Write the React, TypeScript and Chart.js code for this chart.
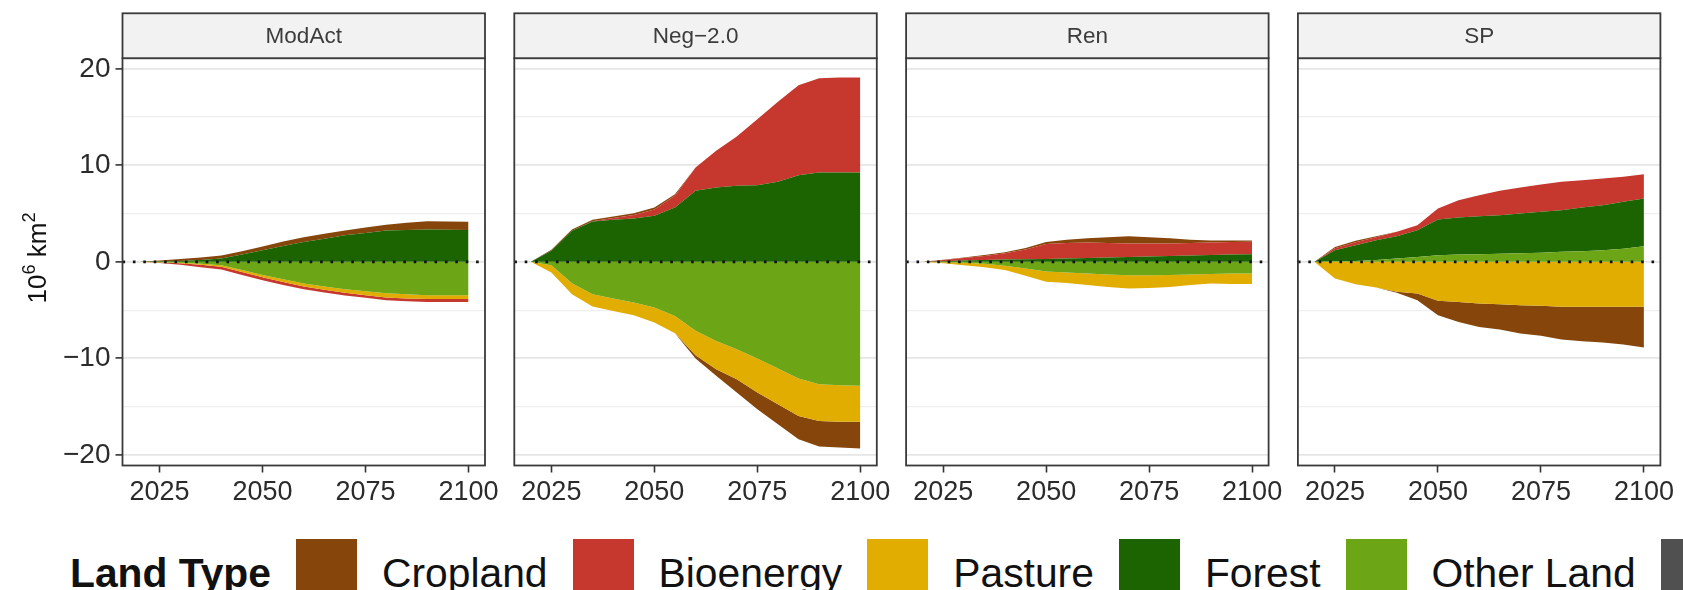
import { Fragment, useEffect, useRef } from "react";
import { Chart, registerables } from "chart.js";

Chart.register(...registerables);

const FONT = "'Liberation Sans', Arial, Helvetica, sans-serif";

// time axis and ticks
const YEARS = [2020, 2025, 2030, 2035, 2040, 2045, 2050, 2055, 2060, 2065, 2070, 2075, 2080, 2085, 2090, 2095, 2100];
const X_TICKS = [2025, 2050, 2075, 2100];
const Y_TICKS = [-20, -15, -10, -5, 0, 5, 10, 15, 20];

const SCENARIOS = ["ModAct", "Neg\u22122.0", "Ren", "SP"];
const LAND_TYPES = ["Cropland", "Bioenergy", "Pasture", "Forest", "Other Land"];
const LAND_COLORS = ["#86460b", "#c6382e", "#e1ad01", "#1c6401", "#6ca516"];
const EXTRA_SWATCH = "#505050";

// ModAct (10^6 km2, change vs 2020)
const modActCropland = [0, 0.1, 0.2, 0.25, 0.3, 0.35, 0.4, 0.45, 0.5, 0.5, 0.5, 0.55, 0.6, 0.75, 0.85, 0.85, 0.85];
const modActBioenergy = [0, -0.05, -0.15, -0.25, -0.3, -0.3, -0.3, -0.3, -0.3, -0.3, -0.28, -0.28, -0.28, -0.28, -0.3, -0.3, -0.3];
const modActPasture = [0, -0.02, -0.05, -0.1, -0.15, -0.2, -0.25, -0.3, -0.3, -0.33, -0.35, -0.4, -0.45, -0.45, -0.4, -0.4, -0.4];
const modActForest = [0, 0.05, 0.1, 0.2, 0.35, 0.75, 1.2, 1.65, 2.05, 2.4, 2.75, 3.0, 3.25, 3.3, 3.35, 3.32, 3.3];
const modActOther = [0, -0.05, -0.1, -0.2, -0.35, -0.85, -1.35, -1.8, -2.25, -2.55, -2.85, -3.05, -3.25, -3.35, -3.45, -3.45, -3.45];

// Neg-2.0
const negCropland = [0, 0.1, 0.12, 0.15, 0.15, 0.18, 0.2, 0.15, -0.35, -0.69, -1.38, -1.73, -2.07, -2.42, -2.66, -2.66, -2.76];
const negBioenergy = [0, 0.02, 0.02, 0.02, 0.2, 0.37, 0.66, 1.23, 2.42, 3.8, 5.11, 6.84, 8.29, 9.33, 9.77, 9.84, 9.84];
const negPasture = [0, -0.76, -1.14, -1.28, -1.28, -1.32, -1.56, -1.79, -2.52, -2.93, -3.11, -3.52, -3.7, -3.87, -3.8, -3.8, -3.73];
const negForest = [0, 1.14, 3.21, 4.18, 4.35, 4.49, 4.77, 5.63, 7.36, 7.7, 7.88, 7.94, 8.29, 8.98, 9.26, 9.26, 9.26];
const negOther = [0, -0.35, -2.21, -3.35, -3.8, -4.21, -4.73, -5.6, -7.15, -8.19, -9.05, -10.02, -11.05, -12.09, -12.68, -12.78, -12.85];

// Ren
const renCropland = [0, 0.02, 0.05, 0.1, 0.1, 0.15, 0.2, 0.35, 0.45, 0.6, 0.75, 0.65, 0.55, 0.35, 0.2, 0.15, 0.15];
const renBioenergy = [0, 0.15, 0.25, 0.4, 0.65, 1.0, 1.55, 1.6, 1.6, 1.5, 1.4, 1.35, 1.3, 1.3, 1.3, 1.3, 1.27];
const renPasture = [0, -0.1, -0.25, -0.35, -0.45, -0.75, -1.05, -1.1, -1.2, -1.3, -1.35, -1.3, -1.25, -1.1, -1.0, -1.1, -1.1];
const renForest = [0, 0.05, 0.15, 0.2, 0.25, 0.28, 0.3, 0.35, 0.4, 0.45, 0.5, 0.55, 0.6, 0.65, 0.7, 0.75, 0.8];
const renOther = [0, -0.05, -0.1, -0.2, -0.4, -0.7, -1.0, -1.1, -1.2, -1.3, -1.4, -1.4, -1.35, -1.3, -1.25, -1.2, -1.2];

// SP
const spCropland = [0, 0.15, 0.15, 0.1, -0.1, -0.7, -1.5, -2.07, -2.42, -2.6, -2.94, -3.1, -3.39, -3.56, -3.7, -3.91, -4.22];
const spBioenergy = [0, 0.2, 0.3, 0.31, 0.45, 0.52, 1.14, 1.79, 2.17, 2.52, 2.7, 2.83, 2.94, 2.83, 2.77, 2.59, 2.52];
const spPasture = [0, -1.73, -2.31, -2.66, -3.11, -3.28, -4.04, -4.15, -4.32, -4.4, -4.49, -4.55, -4.66, -4.66, -4.66, -4.66, -4.66];
const spForest = [0, 1.15, 1.63, 2.05, 2.31, 2.78, 3.7, 3.85, 3.93, 3.99, 4.1, 4.23, 4.31, 4.53, 4.67, 4.87, 4.94];
const spOther = [0, 0.05, 0.1, 0.2, 0.35, 0.5, 0.69, 0.75, 0.8, 0.85, 0.9, 0.95, 1.04, 1.1, 1.2, 1.35, 1.62];

// per facet, in LAND_TYPES order
const SERIES = [
  [modActCropland, modActBioenergy, modActPasture, modActForest, modActOther],
  [negCropland, negBioenergy, negPasture, negForest, negOther],
  [renCropland, renBioenergy, renPasture, renForest, renOther],
  [spCropland, spBioenergy, spPasture, spForest, spOther],
];

// layout (px)
const CANVAS_W = 1683;
const CANVAS_H = 526;
const PANEL_LEFT = [122.5, 514.3, 906.1, 1297.9];
const PANEL_W = 362.5;
const PANEL_TOP = 58.2;
const PANEL_H = 407.3;
const STRIP_TOP = 13.3;

const facetDecor = {
  id: "facetDecor",
  afterDraw(chart: any, _args: any, opts: any) {
    const { ctx, chartArea: a } = chart;
    const y0 = chart.scales.y.getPixelForValue(0);
    ctx.save();

    // dotted zero line
    ctx.beginPath();
    ctx.setLineDash([2.6, 7.8]);
    ctx.lineWidth = 2.6;
    ctx.strokeStyle = "#111";
    ctx.moveTo(a.left, y0);
    ctx.lineTo(a.right, y0);
    ctx.stroke();
    ctx.setLineDash([]);

    // panel border + strip
    ctx.lineWidth = 1.8;
    ctx.strokeStyle = "#3a3a3a";
    ctx.strokeRect(a.left, a.top, a.right - a.left, a.bottom - a.top);
    ctx.fillStyle = "#f2f2f2";
    ctx.fillRect(a.left, STRIP_TOP, a.right - a.left, a.top - STRIP_TOP);
    ctx.strokeRect(a.left, STRIP_TOP, a.right - a.left, a.top - STRIP_TOP);
    ctx.fillStyle = "#3c3c3c";
    ctx.font = `22.5px ${FONT}`;
    ctx.textAlign = "center";
    ctx.textBaseline = "middle";
    ctx.fillText(opts.title, (a.left + a.right) / 2, (STRIP_TOP + a.top) / 2 + 1);

    // y axis title 10^6 km^2
    if (opts.yTitle) {
      const size = 26;
      const parts = [
        { t: "10", s: 1, dy: 0 },
        { t: "6", s: 0.7, dy: -0.42 },
        { t: " km", s: 1, dy: 0 },
        { t: "2", s: 0.7, dy: -0.42 },
      ];
      let total = 0;
      parts.forEach((p) => {
        ctx.font = `${size * p.s}px ${FONT}`;
        total += ctx.measureText(p.t).width;
      });
      ctx.translate(46, 258);
      ctx.rotate(-Math.PI / 2);
      ctx.textAlign = "left";
      ctx.textBaseline = "alphabetic";
      ctx.fillStyle = "#111";
      let x = -total / 2;
      parts.forEach((p) => {
        ctx.font = `${size * p.s}px ${FONT}`;
        ctx.fillText(p.t, x, p.dy * size);
        x += ctx.measureText(p.t).width;
      });
    }
    ctx.restore();
  },
};

function Facet({ index }: { index: number }) {
  const canvasRef = useRef<HTMLCanvasElement>(null);

  useEffect(() => {
    if (!canvasRef.current) return;
    const first = index === 0;
    const series = SERIES[index];
    // ggplot stacks the last level nearest to zero
    const order = [4, 3, 2, 1, 0];

    const datasets: any[] = [];
    ["pos", "neg"].forEach((sign) => {
      order.forEach((k, j) => {
        datasets.push({
          label: `${LAND_TYPES[k]} ${sign}`,
          data: YEARS.map((yr, i) => ({
            x: yr,
            y: sign === "pos" ? Math.max(series[k][i], 0) : Math.min(series[k][i], 0),
          })),
          stack: sign,
          fill: j === 0 ? "origin" : "-1",
          backgroundColor: LAND_COLORS[k],
          borderColor: "transparent",
          borderWidth: 0,
          pointRadius: 0,
          tension: 0,
        });
      });
    });

    const isMajor = (c: any) => c.tick && Math.abs(c.tick.value) % 10 === 0;

    const chart = new Chart(canvasRef.current, {
      type: "line",
      data: { datasets },
      plugins: [facetDecor],
      options: {
        animation: false,
        responsive: true,
        maintainAspectRatio: false,
        events: [],
        layout: {
          padding: {
            left: first ? 0 : PANEL_LEFT[index],
            right: CANVAS_W - PANEL_LEFT[index] - PANEL_W,
            top: PANEL_TOP,
            bottom: 0,
          },
        },
        plugins: {
          legend: { display: false },
          tooltip: { enabled: false },
          facetDecor: { title: SCENARIOS[index], yTitle: first },
        } as any,
        scales: {
          x: {
            type: "linear",
            min: 2016,
            max: 2104,
            afterBuildTicks: (s: any) => {
              s.ticks = X_TICKS.map((v) => ({ value: v }));
            },
            afterFit: (s: any) => {
              s.height = CANVAS_H - PANEL_TOP - PANEL_H;
            },
            grid: { drawOnChartArea: false, drawTicks: true, tickLength: 7, tickColor: "#333", tickWidth: 1.6 },
            border: { display: false },
            ticks: {
              autoSkip: false,
              maxRotation: 0,
              padding: 4,
              color: "#2b2b2b",
              font: { family: FONT, size: 27 },
              callback: (v: any) => String(v),
            },
          },
          y: {
            stacked: true,
            min: -21.1,
            max: 21.1,
            afterBuildTicks: (s: any) => {
              s.ticks = Y_TICKS.map((v) => ({ value: v }));
            },
            afterFit: (s: any) => {
              s.width = first ? PANEL_LEFT[0] : 0;
            },
            grid: {
              color: (c: any) => (isMajor(c) ? "#e6e6e6" : "#efefef"),
              lineWidth: (c: any) => (isMajor(c) ? 1.8 : 1.2),
              drawTicks: first,
              tickLength: 7,
              tickWidth: 1.6,
              tickColor: (c: any) => (isMajor(c) ? "#333" : "transparent"),
            },
            border: { display: false },
            ticks: {
              display: first,
              autoSkip: false,
              padding: 5,
              color: "#2b2b2b",
              font: { family: FONT, size: 28 },
              callback: (v: any) => {
                const n = Number(v);
                if (n % 10 !== 0) return "";
                return n < 0 ? "\u2212" + Math.abs(n) : String(n);
              },
            },
          },
        },
      } as any,
    });

    return () => chart.destroy();
  }, [index]);

  return (
    <div style={{ position: "absolute", left: 0, top: 0, width: CANVAS_W, height: CANVAS_H }}>
      <canvas ref={canvasRef}></canvas>
    </div>
  );
}

export default function App() {
  return (
    <div
      style={{
        position: "absolute",
        left: 0,
        top: 0,
        width: CANVAS_W,
        height: 590,
        overflow: "hidden",
        background: "#fff",
      }}
    >
      {SCENARIOS.map((_, i) => (
        <Facet key={i} index={i} />
      ))}
      {/* legend, cut off at the right and bottom like the reference */}
      <div
        style={{
          position: "absolute",
          left: 70,
          top: 539,
          height: 68,
          display: "flex",
          alignItems: "center",
          gap: 25,
          whiteSpace: "nowrap",
          fontFamily: FONT,
          fontSize: 40.8,
          color: "#111",
        }}
      >
        <span style={{ fontWeight: "bold" }}>Land Type</span>
        {LAND_TYPES.map((name, k) => (
          <Fragment key={name}>
            <span style={{ flex: "none", width: 61, height: 68, background: LAND_COLORS[k] }} />
            <span>{name}</span>
          </Fragment>
        ))}
        <span style={{ flex: "none", width: 61, height: 68, background: EXTRA_SWATCH }} />
      </div>
    </div>
  );
}
